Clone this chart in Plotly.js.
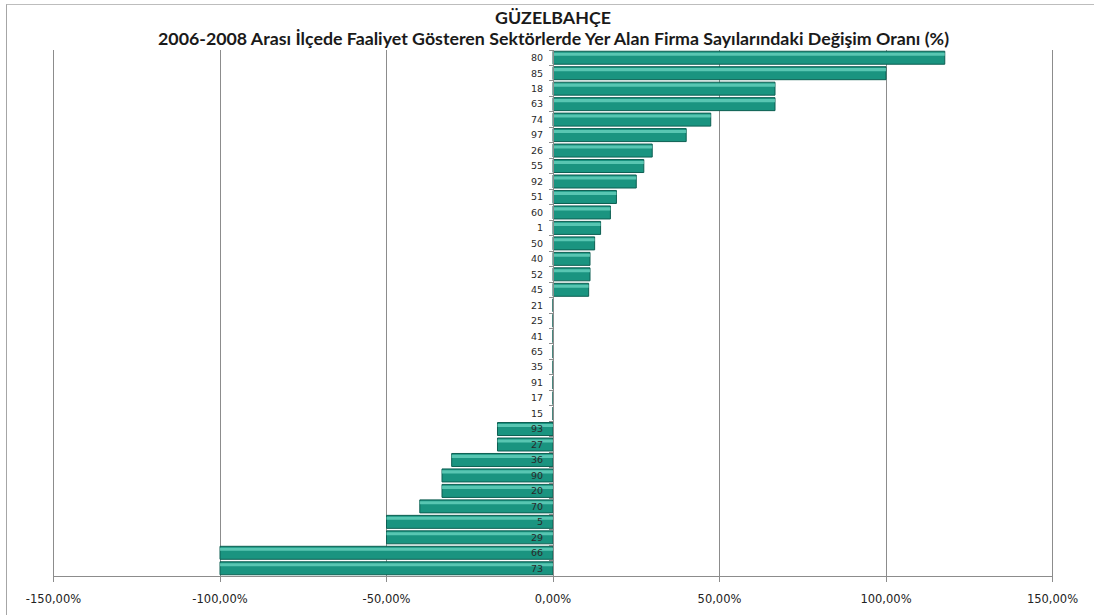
<!DOCTYPE html>
<html>
<head>
<meta charset="utf-8">
<script src="https://cdn.plot.ly/plotly-3.0.1.min.js"></script>
<style>
html,body{margin:0;padding:0;background:#fff;}
#frame{position:absolute;left:6px;top:4px;width:1100px;height:620px;border-left:1px solid #a6a6a6;border-top:1px solid #bdbdbd;}
#chart{position:absolute;left:0;top:0;width:1094px;height:615px;}
</style>
</head>
<body>
<div id="frame"></div>
<div id="chart"></div>
<script>
var sectors = ["80","85","18","63","74","97","26","55","92","51","60","1","50","40","52","45",
  "21","25","41","65","35","91","17","15","93","27","36","90","20","70","5","29","66","73"];
var changePct = [117.65,100,66.67,66.67,47.37,40,29.8,27.27,25,19.05,17.24,14.29,12.5,11.11,11.11,10.71,
  0,0,0,0,0,0,0,0,-16.67,-16.67,-30.43,-33.33,-33.33,-40,-50,-50,-100,-100];
var xTickVals = [-150,-100,-50,0,50,100,150];
var xTickText = ["-150,00%","-100,00%","-50,00%","0,00%","50,00%","100,00%","150,00%"];
var titleLine1 = "GÜZELBAHÇE";
var titleLine2 = "2006-2008 Arası İlçede Faaliyet Gösteren Sektörlerde Yer Alan Firma Sayılarındaki Değişim Oranı (%)";

var barTrace = {
  type: "bar",
  orientation: "h",
  x: changePct,
  y: sectors,
  width: 0.84, offset: -0.42,
  marker: {color: "#1a9480", line: {color: "#0d5f52", width: 1}},
  hoverinfo: "x+y"
};
var shineTrace = {
  type: "bar",
  orientation: "h",
  x: changePct,
  y: sectors,
  width: 0.2, offset: -0.33,
  marker: {color: "rgba(110,215,195,0.75)", line: {width: 0}},
  hoverinfo: "skip"
};

var titleFont = {family: "Lato, 'Open Sans', sans-serif", size: 17.8, color: "#1a1a1a", weight: "bold"};

var edgeLines = [xTickVals[0], xTickVals[xTickVals.length - 1]].map(function (v) {
  return {type: "line", xref: "x", yref: "paper", x0: v, x1: v, y0: 0, y1: 1,
          line: {color: "#8c8c8c", width: 1}, layer: "below"};
});

var layout = {
  width: 1094, height: 615,
  paper_bgcolor: "rgba(0,0,0,0)",
  plot_bgcolor: "rgba(0,0,0,0)",
  margin: {l: 53, r: 41, t: 50, b: 39},
  barmode: "overlay",
  showlegend: false,
  shapes: edgeLines,
  annotations: [
    {text: titleLine1, xref: "paper", yref: "paper", x: 0.5, y: 1, xanchor: "center", yanchor: "middle",
     yshift: 33, showarrow: false, font: titleFont},
    {text: titleLine2, xref: "paper", yref: "paper", x: 0.5, y: 1, xanchor: "center", yanchor: "middle",
     yshift: 12, showarrow: false, font: titleFont}
  ],
  xaxis: {
    range: [-150.15, 150.15],
    tickvals: xTickVals, ticktext: xTickText,
    showgrid: true, gridcolor: "#8c8c8c", gridwidth: 1,
    zeroline: false,
    showline: true, linecolor: "#8c8c8c", linewidth: 1,
    ticks: "outside", ticklen: 5, tickcolor: "#8c8c8c",
    ticklabelstandoff: 7,
    tickfont: {family: "DejaVu Sans, sans-serif", size: 11.5, color: "#222"},
    fixedrange: true
  },
  yaxis: {
    type: "category",
    autorange: "reversed",
    anchor: "free", position: 0.5,
    showgrid: false, zeroline: false,
    showline: true, linecolor: "#8c8c8c", linewidth: 1,
    ticks: "outside", ticklen: 4, tickcolor: "#8c8c8c",
    tickson: "boundaries",
    ticklabelstandoff: 8,
    tickfont: {family: "DejaVu Sans, sans-serif", size: 9.5, color: "#2a2a2a"},
    fixedrange: true
  }
};

Plotly.newPlot("chart", [barTrace, shineTrace], layout, {displayModeBar: false, staticPlot: true});
</script>
</body>
</html>
